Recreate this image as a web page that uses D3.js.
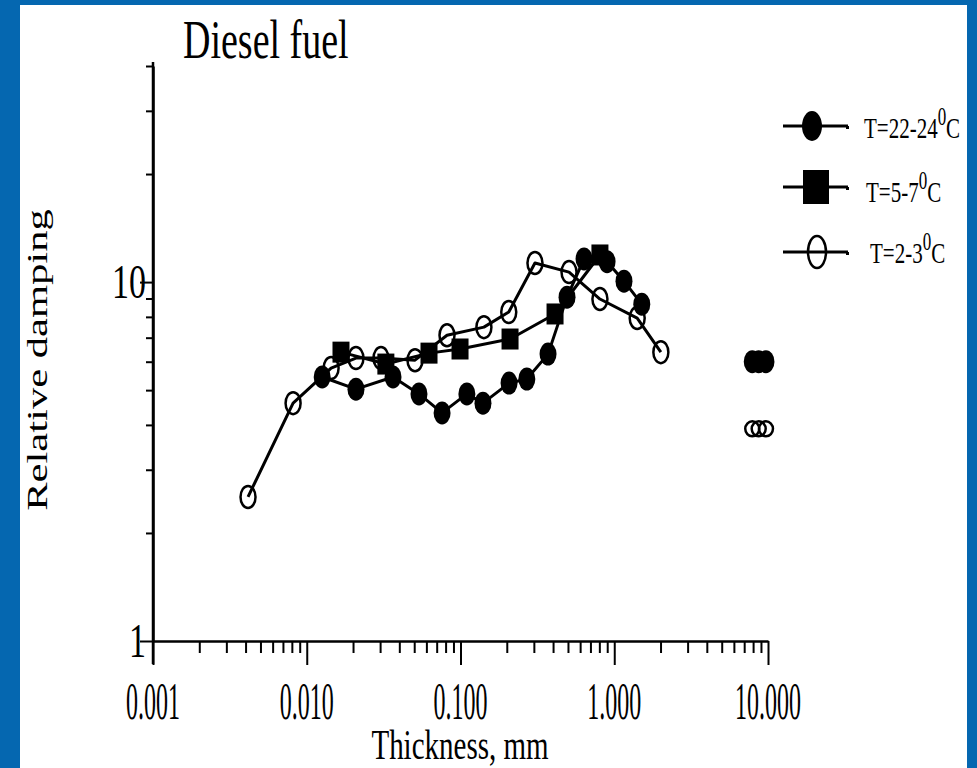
<!DOCTYPE html>
<html><head><meta charset="utf-8">
<script src="https://cdn.jsdelivr.net/npm/d3@7"></script>
<style>body{margin:0;background:#0567b0;} svg{display:block}</style>
</head><body><svg id="c" width="977" height="768"></svg>
<script>
// ---- data ----
const warmThickness = [0.0126,0.0209,0.0364,0.0537,0.0759,0.110,0.140,0.207,0.270,0.371,0.493,0.636,0.898,1.157,1.51];
const warmDamping   = [5.44,5.03,5.44,4.88,4.32,4.88,4.60,5.23,5.37,6.30,9.08,11.6,11.4,10.06,8.68];
const coolThickness = [0.0167,0.0327,0.0624,0.0993,0.210,0.412,0.807];
const coolDamping   = [6.38,5.91,6.34,6.51,6.94,8.15,11.9];
const coldThickness = [0.00415,0.00815,0.0144,0.0209,0.0304,0.0506,0.0817,0.142,0.206,0.305,0.508,0.807,1.41,2.01];
const coldDamping   = [2.52,4.60,5.76,6.14,6.14,6.06,7.11,7.49,8.25,11.3,10.66,8.97,7.94,6.38];
const warmBulkThickness = [7.9,8.7,9.7];
const warmBulkDamping   = [6.0,6.0,6.0];
const coldBulkThickness = [7.9,8.7,9.7];
const coldBulkDamping   = [3.9,3.9,3.9];
const xTickLabels = ["0.001","0.010","0.100","1.000","10.000"];
const xMajorTicks = [0.001,0.01,0.1,1,10];
const yTickLabels = ["1","10"];
const yMajorTicks = [1,10];
const legendLabels = [["T=22-24","0","C"],["T=5-7","0","C"],["T=2-3","0","C"]];
const titleText = "Diesel fuel";
const xTitle = "Thickness, mm";
const yTitle = "Relative damping";

const svg = d3.select("#c");
const FONT = "'Liberation Serif','Times New Roman',serif";

// panel
svg.append("rect").attr("x",20).attr("y",5).attr("width",947).attr("height",763).attr("fill","#fff");

const x = d3.scaleLog().domain([0.001,10]).range([153,768]);
const y = d3.scaleLog().domain([1,40]).range([641,66]);

const xTicks = [];
for (let e=-3;e<1;e++) for (let m=1;m<10;m++) xTicks.push(m*Math.pow(10,e));
xTicks.push(10);
const yTicks = [];
for (let e=0;e<2;e++) for (let m=1;m<10;m++) { const v=m*Math.pow(10,e); if (v<=40) yTicks.push(v); }

const isMajor = v => Math.abs(Math.log10(v)-Math.round(Math.log10(v)))<1e-9;

const gx = svg.append("g").attr("transform","translate(0,641)")
  .call(d3.axisBottom(x).tickValues(xTicks).tickFormat("").tickSizeOuter(0));
gx.select(".domain").attr("stroke","#000").attr("stroke-width",2.5);
gx.selectAll(".tick line").attr("stroke","#000").attr("stroke-width",2)
  .attr("y2", d => isMajor(d) ? 24 : 12);

const gy = svg.append("g").attr("transform","translate(153,0)")
  .call(d3.axisLeft(y).tickValues(yTicks).tickFormat("").tickSizeOuter(0));
gy.select(".domain").attr("stroke","#000").attr("stroke-width",2.5);
gy.selectAll(".tick line").attr("stroke","#000").attr("stroke-width",2)
  .attr("x2", d => isMajor(d) ? -13 : -7);
svg.append("line").attr("x1",153).attr("x2",153).attr("y1",y(40)-4).attr("y2",664)
  .attr("stroke","#000").attr("stroke-width",2.5);

function stretchedText(parent, txt, px, py, size, sy, anchor) {
  return parent.append("text")
    .attr("transform",`translate(${px},${py}) scale(1,${sy})`)
    .attr("font-family",FONT).attr("font-size",size).attr("text-anchor",anchor||"start")
    .attr("fill","#000").text(txt);
}

// tick labels
xMajorTicks.forEach((v,i)=> stretchedText(svg, xTickLabels[i], x(v), 719, 24, 2.2, "middle"));
yMajorTicks.forEach((v,i)=> stretchedText(svg, yTickLabels[i], 146, y(v)+16, 34, 1.45, "end"));

// titles
stretchedText(svg, titleText, 183, 58, 38, 1.45, "start");
stretchedText(svg, xTitle, 460, 759, 29, 1.45, "middle");
svg.append("text")
  .attr("transform",`translate(47,360) rotate(-90) scale(1.42,1)`)
  .attr("font-family",FONT).attr("font-size",30).attr("text-anchor","middle").text(yTitle);

// series
const line = d3.line().x(d=>x(d[0])).y(d=>y(d[1]));
const warm = d3.zip(warmThickness, warmDamping);
const cool = d3.zip(coolThickness, coolDamping);
const cold = d3.zip(coldThickness, coldDamping);
const warmBulk = d3.zip(warmBulkThickness, warmBulkDamping);
const coldBulk = d3.zip(coldBulkThickness, coldBulkDamping);

[cold, warm, cool].forEach(s => svg.append("path").datum(s).attr("d",line)
  .attr("fill","none").attr("stroke","#000").attr("stroke-width",3).attr("stroke-linejoin","round"));

svg.append("g").selectAll("ellipse").data(cold).join("ellipse")
  .attr("cx",d=>x(d[0])).attr("cy",d=>y(d[1])).attr("rx",7.5).attr("ry",11)
  .attr("fill","none").attr("stroke","#000").attr("stroke-width",2.5);
svg.append("g").selectAll("ellipse").data(coldBulk).join("ellipse")
  .attr("cx",d=>x(d[0])).attr("cy",d=>y(d[1])).attr("rx",7).attr("ry",7.5)
  .attr("fill","none").attr("stroke","#000").attr("stroke-width",2.5);
svg.append("g").selectAll("ellipse").data(warm.concat(warmBulk)).join("ellipse")
  .attr("cx",d=>x(d[0])).attr("cy",d=>y(d[1])).attr("rx",8.5).attr("ry",11.5).attr("fill","#000");
svg.append("g").selectAll("rect").data(cool).join("rect")
  .attr("x",d=>x(d[0])-8.5).attr("y",d=>y(d[1])-10.5).attr("width",17).attr("height",21).attr("fill","#000");

// legend
const legY = [126,187,252];
const lg = svg.append("g");
legY.forEach((ly,i)=>{
  lg.append("line").attr("x1",783).attr("x2",848).attr("y1",ly).attr("y2",ly).attr("stroke","#000").attr("stroke-width",3);
  lg.append("rect").attr("x",846).attr("y",ly).attr("width",3).attr("height",3).attr("fill","#000");
});
lg.append("ellipse").attr("cx",812).attr("cy",legY[0]).attr("rx",10).attr("ry",15).attr("fill","#000");
lg.append("rect").attr("x",803).attr("y",legY[1]-17).attr("width",26).attr("height",34).attr("fill","#000");
lg.append("ellipse").attr("cx",817).attr("cy",legY[2]).attr("rx",9).attr("ry",16).attr("fill","none").attr("stroke","#000").attr("stroke-width",2.5);
const legTX = [864,866,870], legBase=[138,202,263];
legendLabels.forEach((parts,i)=>{
  const t = lg.append("text").attr("transform",`translate(${legTX[i]},${legBase[i]}) scale(1,1.45)`)
    .attr("font-family",FONT).attr("font-size",21);
  t.append("tspan").text(parts[0]);
  t.append("tspan").attr("font-size",17).attr("dy",-9).text(parts[1]);
  t.append("tspan").attr("dy",9).text(parts[2]);
});
</script></body></html>
